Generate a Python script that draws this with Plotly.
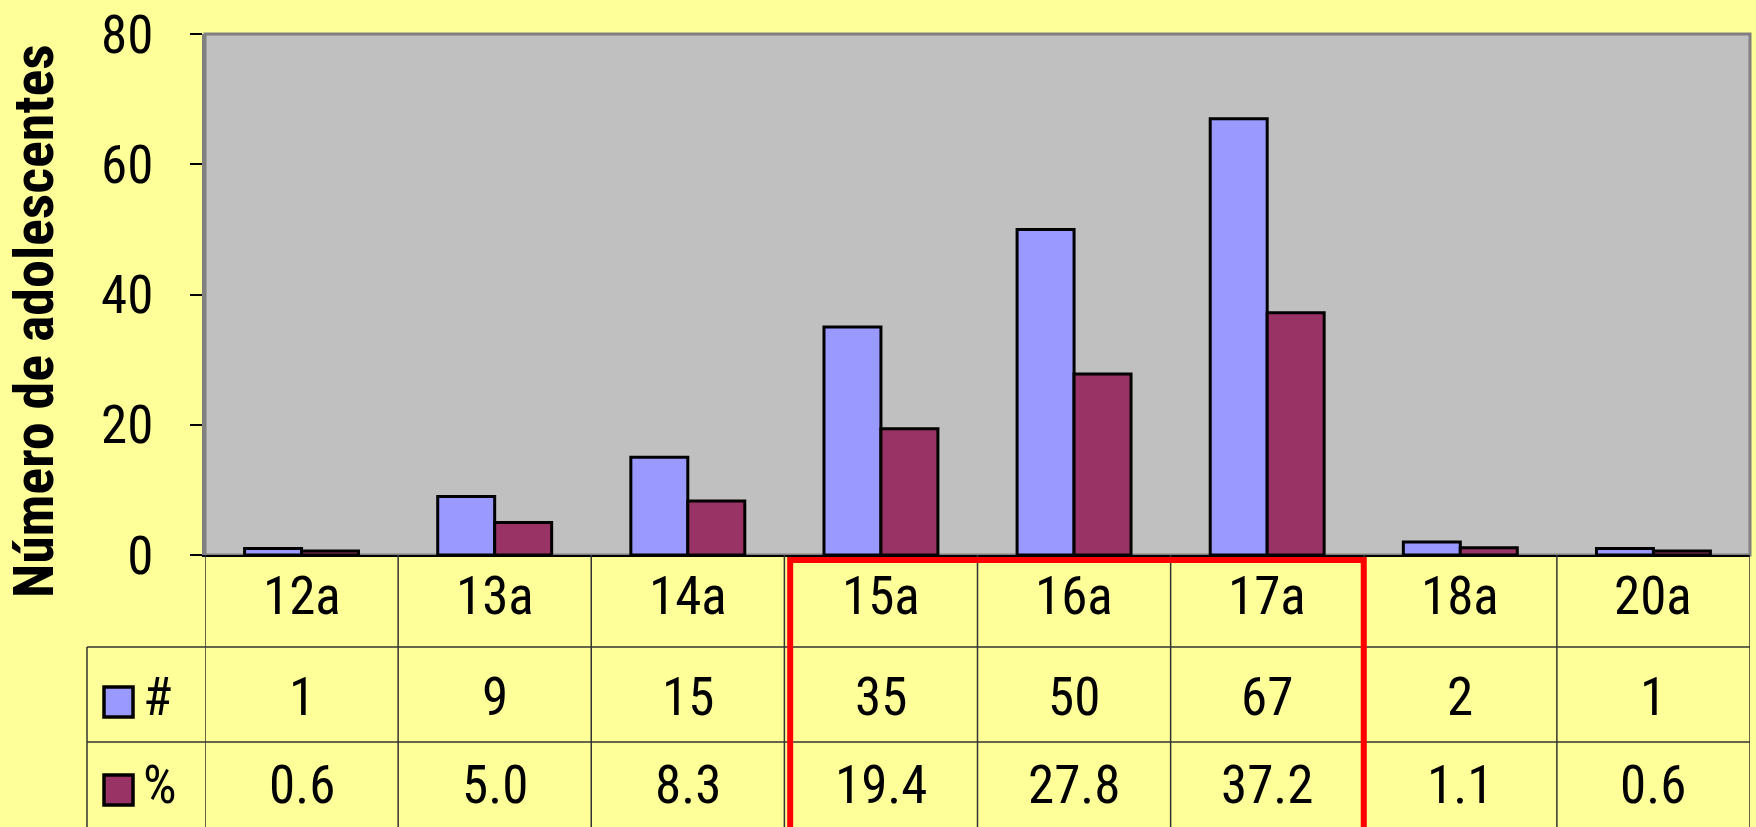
import plotly.graph_objects as go

# chart data
ages = ["12a", "13a", "14a", "15a", "16a", "17a", "18a", "20a"]
counts = [1, 9, 15, 35, 50, 67, 2, 1]
percents = [0.6, 5.0, 8.3, 19.4, 27.8, 37.2, 1.1, 0.6]
row_labels = ["#", "%"]
y_ticks = [0, 20, 40, 60, 80]
highlight = ["15a", "16a", "17a"]

W, H = 1756, 827
FONT = "Roboto Condensed, Arial Narrow, Liberation Sans, sans-serif"
BLUE = "#9999FF"
MAROON = "#993366"
TXT = 53


def fx(v):
    return v / W


def fy(v):
    return 1 - v / H


fig = go.Figure()

fig.add_trace(go.Bar(
    x=ages, y=counts, name="#",
    marker=dict(color=BLUE, line=dict(color="black", width=3)),
))
fig.add_trace(go.Bar(
    x=ages, y=percents, name="%",
    marker=dict(color=MAROON, line=dict(color="black", width=3)),
))

shapes = []
annotations = []


def cell_text(x, y, text, xref="x", xanchor="center"):
    return dict(x=x, y=y, xref=xref, yref="paper", text=text, showarrow=False,
                xanchor=xanchor, yanchor="middle",
                font=dict(size=TXT, color="black", family=FONT))


# plot frame
shapes.append(dict(type="rect", xref="x domain", yref="y domain", x0=0, x1=1, y0=0, y1=1,
                   line=dict(color="#808080", width=3), layer="below"))

# table grid: column separators
for i in range(len(ages) + 1):
    shapes.append(dict(type="line", xref="x", yref="paper", x0=i - 0.5, x1=i - 0.5,
                       y0=0, y1=fy(555), line=dict(color="#333333", width=1.5)))
# row separators and legend column border
for yy in (647, 742):
    shapes.append(dict(type="line", xref="paper", yref="paper", x0=fx(87), x1=fx(1750),
                       y0=fy(yy), y1=fy(yy), line=dict(color="#333333", width=1.5)))
shapes.append(dict(type="line", xref="paper", yref="paper", x0=fx(87), x1=fx(87),
                   y0=0, y1=fy(647), line=dict(color="#333333", width=1.5)))

# header row and value rows
for i, a in enumerate(ages):
    annotations.append(cell_text(a, fy(596), a))
    annotations.append(cell_text(a, fy(697), str(counts[i])))
    annotations.append(cell_text(a, fy(785), f"{percents[i]:.1f}"))

# legend keys in table
for lbl, col, yc, ty in zip(row_labels, [BLUE, MAROON], [702, 790], [697, 785]):
    shapes.append(dict(type="rect", xref="paper", yref="paper", x0=fx(104), x1=fx(133),
                       y0=fy(yc + 15), y1=fy(yc - 15), fillcolor=col,
                       line=dict(color="black", width=3.5)))
    annotations.append(cell_text(fx(141), fy(ty), lbl, xref="paper", xanchor="left"))

# red highlight box
i0 = ages.index(highlight[0])
i1 = ages.index(highlight[-1])
shapes.append(dict(type="rect", xref="x", yref="paper", x0=i0 - 0.47, x1=i1 + 0.5,
                   y0=-0.05, y1=fy(560), line=dict(color="#FF0000", width=6)))

# y-axis title
annotations.append(dict(x=fx(34), y=fy(321), xref="paper", yref="paper",
                        xanchor="center", yanchor="middle",
                        text="<b>Número de adolescentes</b>", textangle=-90, showarrow=False,
                        font=dict(size=56, color="black", family=FONT)))

fig.update_layout(
    width=W, height=H,
    margin=dict(l=0, r=0, t=0, b=0, autoexpand=False),
    paper_bgcolor="#FFFF99",
    plot_bgcolor="#C0C0C0",
    barmode="group",
    bargap=0.41,
    bargroupgap=0,
    showlegend=False,
    shapes=shapes,
    annotations=annotations,
    font=dict(family=FONT, color="black"),
    xaxis=dict(domain=[fx(205), fx(1750)], range=[-0.5, len(ages) - 0.5], automargin=False,
               showticklabels=False, ticks="", showgrid=False, zeroline=False,
               showline=True, linecolor="black", linewidth=2, fixedrange=True),
    yaxis=dict(domain=[fy(555), fy(34)], range=[0, 80], tickvals=y_ticks, automargin=False,
               ticks="outside", ticklen=12, tickwidth=2, tickcolor="black",
               ticklabelstandoff=26, tickfont=dict(size=TXT, family=FONT),
               showgrid=False, zeroline=False, showline=True, linecolor="#808080",
               linewidth=3),
)

fig.write_html("out.html", config={"displayModeBar": False},
               post_script="document.body.style.margin='0';")
